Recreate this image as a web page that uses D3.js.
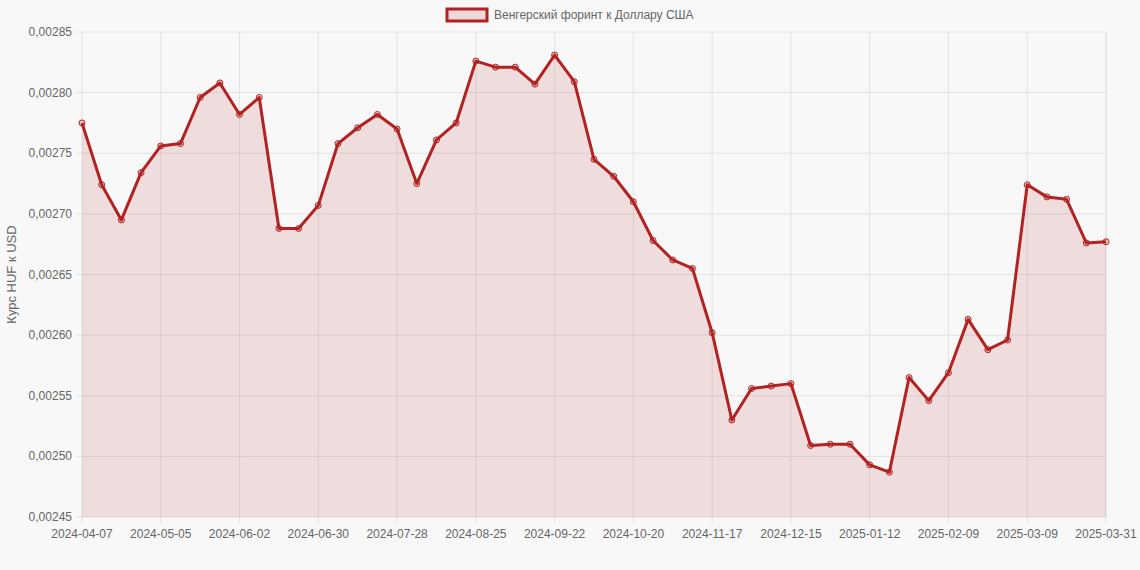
<!DOCTYPE html>
<html><head><meta charset="utf-8">
<script src="https://cdn.jsdelivr.net/npm/d3@7"></script>
<style>body{margin:0;background:#f8f8f8;font-family:"Liberation Sans",Arial,sans-serif}</style>
</head><body><svg id="c" width="1140" height="570"></svg>
<script>
const dates=["2024-04-07","2024-04-14","2024-04-21","2024-04-28","2024-05-05","2024-05-12","2024-05-19","2024-05-26","2024-06-02","2024-06-09","2024-06-16","2024-06-23","2024-06-30","2024-07-07","2024-07-14","2024-07-21","2024-07-28","2024-08-04","2024-08-11","2024-08-18","2024-08-25","2024-09-01","2024-09-08","2024-09-15","2024-09-22","2024-09-29","2024-10-06","2024-10-13","2024-10-20","2024-10-27","2024-11-03","2024-11-10","2024-11-17","2024-11-24","2024-12-01","2024-12-08","2024-12-15","2024-12-22","2024-12-29","2025-01-05","2025-01-12","2025-01-19","2025-01-26","2025-02-02","2025-02-09","2025-02-16","2025-02-23","2025-03-02","2025-03-09","2025-03-16","2025-03-23","2025-03-30","2025-03-31"];
const rates=[0.002775,0.002724,0.002695,0.002734,0.002756,0.002758,0.002796,0.002808,0.002782,0.002796,0.002688,0.002688,0.002707,0.002758,0.002771,0.002782,0.00277,0.002725,0.002761,0.002775,0.002826,0.002821,0.002821,0.002807,0.002831,0.002809,0.002745,0.002731,0.00271,0.002678,0.002662,0.002655,0.002602,0.00253,0.002556,0.002558,0.00256,0.002509,0.00251,0.00251,0.002493,0.002487,0.002565,0.002546,0.002569,0.002613,0.002588,0.002596,0.002724,0.002714,0.002712,0.002676,0.002677];
const yTicks=[0.00245,0.0025,0.00255,0.0026,0.00265,0.0027,0.00275,0.0028,0.00285];
const seriesName="Венгерский форинт к Доллару США";
const yTitle="Курс HUF к USD";
const L=82,R=1106,T=32,B=517,col="#b22222";
const svg=d3.select("#c");
const x=d3.scalePoint().domain(dates).range([L,R]);
const y=d3.scaleLinear().domain([0.00245,0.00285]).range([B,T]);
const shown=dates.filter((d,i)=>i%4===0||i===dates.length-1);
const fmt=v=>v.toFixed(5).replace(".",",");
const g=svg.append("g");
g.selectAll(".hg").data(yTicks).join("line").attr("x1",L-6).attr("x2",R).attr("y1",d=>y(d)).attr("y2",d=>y(d)).attr("stroke","#e2e2e2");
g.selectAll(".vg").data(shown).join("line").attr("x1",d=>x(d)).attr("x2",d=>x(d)).attr("y1",T).attr("y2",B+6).attr("stroke","#e2e2e2");
g.append("line").attr("x1",R).attr("x2",R).attr("y1",T).attr("y2",B).attr("stroke","#e2e2e2");
g.selectAll(".yl").data(yTicks).join("text").attr("x",L-10).attr("y",d=>y(d)+4).attr("text-anchor","end").attr("font-size",12).attr("fill","#666").text(fmt);
g.selectAll(".xl").data(shown).join("text").attr("x",d=>x(d)).attr("y",B+21).attr("text-anchor","middle").attr("font-size",12).attr("fill","#666").text(d=>d);
svg.append("text").attr("transform",`translate(16,${(T+B)/2}) rotate(-90)`).attr("text-anchor","middle").attr("font-size",13).attr("fill","#666").text(yTitle);
const pts=dates.map((d,i)=>[x(d),y(rates[i])]);
svg.append("path").attr("d",d3.area().x(p=>p[0]).y0(B).y1(p=>p[1])(pts)).attr("fill","rgba(178,34,34,0.12)");
svg.append("path").attr("d",d3.line()(pts)).attr("fill","none").attr("stroke",col).attr("stroke-width",3).attr("stroke-linejoin","round");
svg.selectAll(".pt").data(pts).join("circle").attr("cx",p=>p[0]).attr("cy",p=>p[1]).attr("r",3).attr("fill","rgba(178,34,34,0.2)").attr("stroke",col).attr("stroke-width",1);
svg.append("rect").attr("x",447).attr("y",9).attr("width",40).attr("height",12).attr("fill","rgba(178,34,34,0.15)").attr("stroke",col).attr("stroke-width",3);
svg.append("text").attr("x",494).attr("y",19).attr("font-size",12).attr("fill","#666").text(seriesName);
</script></body></html>
